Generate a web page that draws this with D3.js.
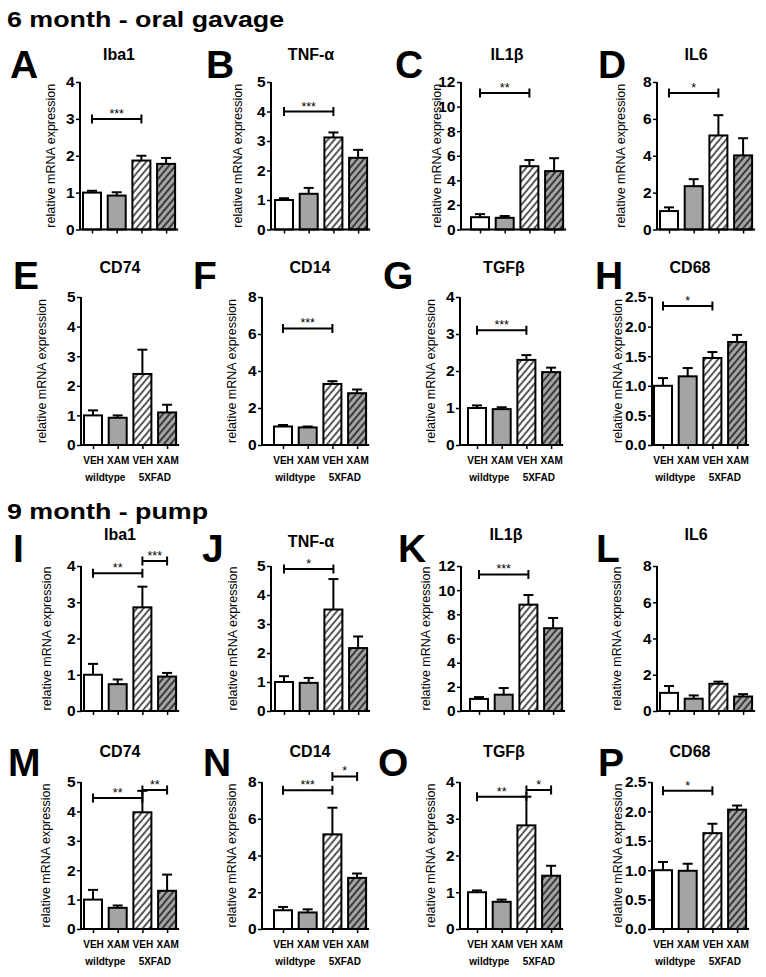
<!DOCTYPE html>
<html>
<head>
<meta charset="utf-8">
<script src="https://cdn.jsdelivr.net/npm/d3@7"></script>
<style>
  body { margin: 0; background: #fff; }
  text { font-family: "Liberation Sans", Arial, sans-serif; }
</style>
</head>
<body>
<div id="chart"></div>
<script>
// ---- data ----
var sections  = ["6 month - oral gavage", "9 month - pump"];
var letters   = ["A","B","C","D","E","F","G","H","I","J","K","L","M","N","O","P"];
var genes     = ["Iba1","TNF-\u03b1","IL1\u03b2","IL6","CD74","CD14","TGF\u03b2","CD68",
                 "Iba1","TNF-\u03b1","IL1\u03b2","IL6","CD74","CD14","TGF\u03b2","CD68"];
var groups    = ["VEH","XAM","VEH","XAM"];
var genotypes = ["wildtype","5XFAD"];
var yLabel    = "relative mRNA expression";

var yMax  = [4,5,12,8, 5,8,4,2.5, 4,5,12,8, 5,8,4,2.5];
var yStep = [1,1,2,2,  1,2,1,0.5, 1,1,2,2,  1,2,1,0.5];

var means = [
  [1.0, 0.92, 1.87, 1.78],   // A
  [1.0, 1.21, 3.12, 2.43],   // B
  [1.0, 0.95, 5.15, 4.75],   // C
  [1.0, 2.35, 5.1, 4.02],    // D
  [1.0, 0.92, 2.4, 1.1],     // E
  [1.0, 0.95, 3.3, 2.8],     // F
  [1.0, 0.97, 2.3, 1.97],    // G
  [1.0, 1.16, 1.47, 1.74],   // H
  [1.0, 0.74, 2.86, 0.95],   // I
  [1.0, 0.97, 3.5, 2.17],    // J
  [1.0, 1.35, 8.8, 6.85],    // K
  [1.0, 0.68, 1.5, 0.8],     // L
  [1.0, 0.72, 3.97, 1.3],    // M
  [1.02, 0.9, 5.15, 2.78],   // N
  [1.0, 0.74, 2.82, 1.45],   // O
  [1.0, 0.99, 1.63, 2.03]    // P
];
var sems = [
  [0.05, 0.09, 0.13, 0.16],
  [0.06, 0.2, 0.17, 0.27],
  [0.25, 0.15, 0.5, 1.05],
  [0.2, 0.38, 1.1, 0.93],
  [0.17, 0.08, 0.82, 0.26],
  [0.08, 0.05, 0.15, 0.2],
  [0.07, 0.05, 0.13, 0.12],
  [0.13, 0.14, 0.1, 0.12],
  [0.3, 0.13, 0.57, 0.1],
  [0.2, 0.17, 1.05, 0.4],
  [0.15, 0.55, 0.8, 0.85],
  [0.38, 0.18, 0.12, 0.13],
  [0.33, 0.08, 0.73, 0.55],
  [0.18, 0.17, 1.45, 0.24],
  [0.05, 0.06, 0.78, 0.27],
  [0.14, 0.12, 0.16, 0.07]
];
// [from bar, to bar, height, stars]
var sigs = [
  [[0,2,3.0,"***"]],
  [[0,2,4.0,"***"]],
  [[0,2,11.1,"**"]],
  [[0,2,7.4,"*"]],
  [],
  [[0,2,6.3,"***"]],
  [[0,2,3.1,"***"]],
  [[0,2,2.35,"*"]],
  [[0,2,3.8,"**"],[2,3,4.14,"***"]],
  [[0,2,4.9,"*"]],
  [[0,2,11.3,"***"]],
  [],
  [[0,2,4.46,"**"],[2,3,4.73,"**"]],
  [[0,2,7.55,"***"],[2,3,8.3,"*"]],
  [[0,2,3.6,"**"],[2,3,3.78,"*"]],
  [[0,2,2.35,"*"]]
];

// ---- layout ----
var width = 766, height = 977;
var axX   = [80,271,461,657, 81,262,460,652, 81,271,461,657, 81,262,460,652];
var bar0  = [92,284,480,669, 93,283,477,663, 93,284,479,669, 93,283,477,663];
var labX  = [55,242,441,625, 46,236,435,622, 51,237,430,621, 50,236,435,622];
var letX  = [10,206,395,598, 13,193,383,595, 13,202,398,596, 8,203,378,598];
var rowTop = [82,297,566,782], rowBot = [229.5,445,711,929];
var titleY = [60,273,540,757], letterY = [78,289,562,776];
var step = 24.7, barW = 18;
var gray = "#a4a4a4";

var svg = d3.select("#chart").append("svg")
    .attr("width", width)
    .attr("height", height);

// hatch patterns
var defs = svg.append("defs");
[["hatchW","#fff"],["hatchG",gray]].forEach(function(h){
    var p = defs.append("pattern")
        .attr("id", h[0])
        .attr("patternUnits", "userSpaceOnUse")
        .attr("width", 5).attr("height", 5)
        .attr("patternTransform", "rotate(40)");
    p.append("rect").attr("width", 5).attr("height", 5).attr("fill", h[1]);
    p.append("line").attr("x1", 1).attr("y1", 0).attr("x2", 1).attr("y2", 5)
        .attr("stroke", "#000").attr("stroke-width", 1.3);
});
var fills = ["#fff", gray, "url(#hatchW)", "url(#hatchG)"];

// section titles
svg.selectAll(".section")
    .data(sections)
    .enter()
    .append("text")
    .attr("class", "section")
    .attr("transform", function(d, i){ return "translate(7," + (i ? 519 : 27) + ") scale(1.22,1)"; })
    .style("font-size", "22px")
    .style("font-weight", "bold")
    .text(function(d){ return d; });

letters.forEach(function(L, i){
    var r = Math.floor(i/4);
    var y = d3.scaleLinear().domain([0, yMax[i]]).range([rowBot[r], rowTop[r]]);
    var x = d3.scalePoint().domain(d3.range(4)).range([bar0[i], bar0[i] + 3*step]);
    var g = svg.append("g");

    // panel letter
    g.append("text")
        .attr("x", letX[i]).attr("y", letterY[r])
        .style("font-size", "39px").style("font-weight", "bold")
        .text(L);

    // gene title
    g.append("text")
        .attr("x", bar0[i] + 27).attr("y", (i === 9 ? 547 : titleY[r]))
        .attr("text-anchor", "middle")
        .style("font-size", "16px").style("font-weight", "bold")
        .text(genes[i]);

    // y label
    g.append("text")
        .attr("transform", "translate(" + labX[i] + "," + ((rowTop[r] + rowBot[r]) / 2) + ") rotate(-90)")
        .attr("text-anchor", "middle")
        .style("font-size", "12.5px")
        .text(yLabel);

    // error bars (upper only)
    var eb = g.selectAll(".err").data(means[i]).enter().append("g");
    eb.append("line")
        .attr("x1", function(d, j){ return x(j); })
        .attr("x2", function(d, j){ return x(j); })
        .attr("y1", function(d){ return y(d); })
        .attr("y2", function(d, j){ return y(d + sems[i][j]); })
        .attr("stroke", "#000").attr("stroke-width", 2);
    eb.append("line")
        .attr("x1", function(d, j){ return x(j) - 5; })
        .attr("x2", function(d, j){ return x(j) + 5; })
        .attr("y1", function(d, j){ return y(d + sems[i][j]); })
        .attr("y2", function(d, j){ return y(d + sems[i][j]); })
        .attr("stroke", "#000").attr("stroke-width", 2);

    // bars
    g.selectAll("rect.bar")
        .data(means[i])
        .enter()
        .append("rect")
        .attr("class", "bar")
        .attr("x", function(d, j){ return x(j) - barW/2; })
        .attr("y", function(d){ return y(d); })
        .attr("width", barW)
        .attr("height", function(d){ return y(0) - y(d); })
        .attr("fill", function(d, j){ return fills[j]; })
        .attr("stroke", "#000")
        .attr("stroke-width", 2);

    // y axis
    var ticks = d3.range(0, yMax[i] + 1e-9, yStep[i]);
    var ya = g.append("g")
        .attr("transform", "translate(" + axX[i] + ",0)")
        .call(d3.axisLeft(y).tickValues(ticks).tickSize(4).tickPadding(1.5)
            .tickFormat(yStep[i] < 1 ? d3.format(".1f") : d3.format("d")));
    ya.select(".domain").attr("stroke-width", 2).attr("d", "M0," + y(yMax[i]) + "V" + y(0));
    ya.selectAll(".tick line").attr("stroke-width", 1.5);
    ya.selectAll("text").style("font-size", "15.5px").style("font-weight", "bold")
        .style("font-family", "'Liberation Sans', Arial, sans-serif").attr("fill", "#000");

    // x axis
    g.append("line")
        .attr("x1", axX[i]).attr("x2", x(3) + barW/2 + 3)
        .attr("y1", y(0)).attr("y2", y(0))
        .attr("stroke", "#000").attr("stroke-width", 2);
    var showX = (r === 1 || r === 3);
    var xa = g.append("g")
        .attr("transform", "translate(0," + y(0) + ")")
        .call(d3.axisBottom(x).tickSize(4).tickPadding(8)
            .tickFormat(function(j){ return showX ? groups[j] : ""; }));
    xa.select(".domain").remove();
    xa.selectAll(".tick line").attr("stroke-width", 1.5);
    xa.selectAll("text").style("font-size", "10px").style("font-weight", "bold")
        .style("font-family", "'Liberation Sans', Arial, sans-serif").attr("fill", "#000");

    if (showX) {
        g.selectAll(".geno").data(genotypes).enter().append("text")
            .attr("x", function(d, k){ return (x(2*k) + x(2*k + 1)) / 2; })
            .attr("y", y(0) + 36)
            .attr("text-anchor", "middle")
            .style("font-size", "10px").style("font-weight", "bold")
            .text(function(d){ return d; });
    }

    // significance brackets
    sigs[i].forEach(function(s){
        var x1 = x(s[0]), x2 = x(s[1]), yy = y(s[2]);
        g.append("path")
            .attr("d", "M" + x1 + "," + yy + "H" + x2 +
                       "M" + x1 + "," + (yy - 4.5) + "V" + (yy + 4.5) +
                       "M" + x2 + "," + (yy - 4.5) + "V" + (yy + 4.5))
            .attr("fill", "none").attr("stroke", "#000").attr("stroke-width", 2);
        g.append("text")
            .attr("x", (x1 + x2) / 2).attr("y", yy - 1)
            .attr("text-anchor", "middle")
            .style("font-size", "12.5px")
            .text(s[3]);
    });
});
</script>
</body>
</html>
